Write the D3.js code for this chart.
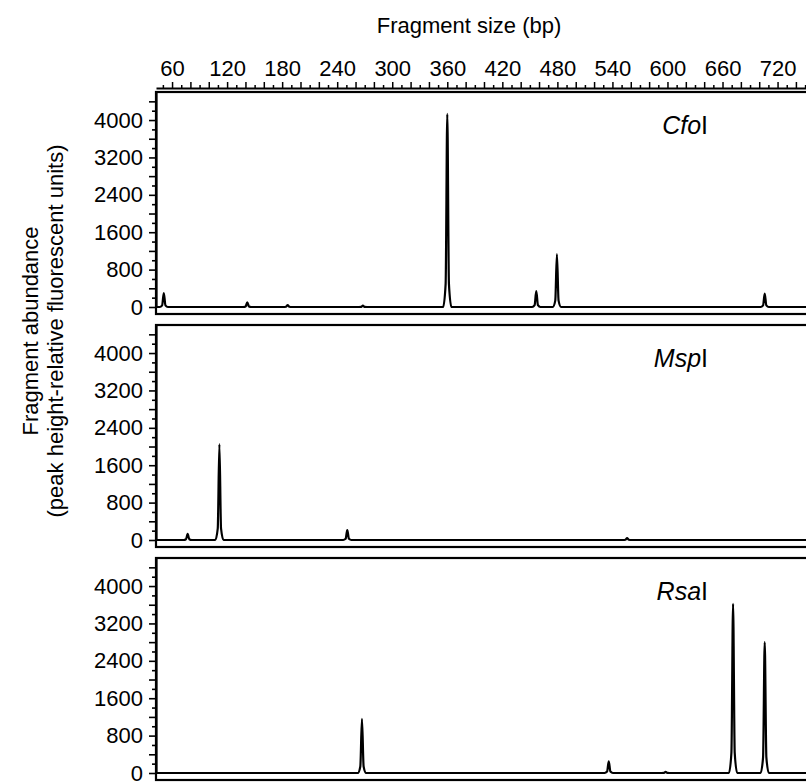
<!DOCTYPE html>
<html>
<head>
<meta charset="utf-8">
<script src="https://cdn.jsdelivr.net/npm/d3@7"></script>
<style>
  body { margin: 0; background: #fff; }
  svg { display: block; font-family: "Liberation Sans", Arial, Helvetica, sans-serif; }
</style>
</head>
<body>
<div id="chart"></div>
<script>
// Data: fragment size in bp, peak height in fluorescent units
const sizeLabels = [60, 120, 180, 240, 300, 360, 420, 480, 540, 600, 660, 720];
const abundanceLabels = [0, 800, 1600, 2400, 3200, 4000];
const enzymes = ["Cfo", "Msp", "Rsa"];

const cfoPeakSizes   = [51, 142, 186, 268, 360, 457, 479.5, 706];
const cfoPeakHeights = [300, 100, 40, 30, 4130, 340, 1130, 285];

const mspPeakSizes   = [77, 111.6, 251, 556];
const mspPeakHeights = [130, 2050, 210, 40];

const rsaPeakSizes   = [267, 536, 598, 671.5, 706];
const rsaPeakHeights = [1160, 250, 25, 3620, 2800];

const width = 806, height = 783;
const panelLeft = 156;
const firstTop = 92;        // top of the first frame
const panelStep = 233;      // distance between panel tops
const plotHeight = 215;     // 0 .. 4600 units
const frameHeight = 222;
const peakHalfWidth = 4.5;  // bp, half width of a peak at its base

const svg = d3.create("svg")
  .attr("width", width)
  .attr("height", height)
  .attr("viewBox", [0, 0, width, height]);

// X scale shared by all panels
const x = d3.scaleLinear([42.5, 751], [panelLeft, width]);

// Top axis with minor ticks every 10 bp
const topAxis = svg.append("g")
  .attr("transform", "translate(0,88)")
  .call(d3.axisTop(x)
    .tickValues(d3.range(50, 751, 10))
    .tickSize(3)
    .tickSizeOuter(0)
    .tickPadding(9)
    .tickFormat(d => sizeLabels.includes(d) ? d : ""));

topAxis.selectAll(".tick line")
  .attr("stroke-width", 1.5)
  .attr("y2", d => d % 20 === 0 ? -6 : -3);
topAxis.select(".domain").attr("stroke-width", 2);
topAxis.selectAll("text")
  .attr("font-size", 22)
  .attr("font-family", "Liberation Sans, Arial, sans-serif")
  .attr("fill", "#000");

// title
svg.append("text")
  .attr("x", 469)
  .attr("y", 33)
  .attr("text-anchor", "middle")
  .attr("font-size", 22)
  .text("Fragment size (bp)");

// y-axis title
const yTitle = svg.append("text")
  .attr("transform", "translate(0,331) rotate(-90)")
  .attr("text-anchor", "middle")
  .attr("font-size", 22);
yTitle.append("tspan").attr("x", 0).attr("y", 38).text("Fragment abundance");
yTitle.append("tspan").attr("x", 0).attr("y", 63).text("(peak height-relative fluorescent units)");

const panels = [
  {name: enzymes[0], sizes: cfoPeakSizes, heights: cfoPeakHeights},
  {name: enzymes[1], sizes: mspPeakSizes, heights: mspPeakHeights},
  {name: enzymes[2], sizes: rsaPeakSizes, heights: rsaPeakHeights}
];

panels.forEach((p, i) => {
  const top = firstTop + i * panelStep;
  const y = d3.scaleLinear([0, 4600], [top + plotHeight, top]);

  // frame
  svg.append("rect")
    .attr("x", panelLeft)
    .attr("y", top)
    .attr("width", width - panelLeft + 10)
    .attr("height", frameHeight)
    .attr("fill", "none")
    .attr("stroke", "#000")
    .attr("stroke-width", 2.2);

  // left axis: ticks every 200, longer every 400, labels every 800
  const yAxis = svg.append("g")
    .attr("transform", `translate(${panelLeft},0)`)
    .call(d3.axisLeft(y)
      .tickValues(d3.range(0, 4401, 200))
      .tickSize(4)
      .tickSizeOuter(0)
      .tickPadding(9)
      .tickFormat(d => abundanceLabels.includes(d) ? d : ""));
  yAxis.select(".domain").attr("stroke-width", 2.2);
  yAxis.selectAll(".tick line")
    .attr("stroke-width", 1.6)
    .attr("x2", d => d % 400 === 0 ? -7 : -4);
  yAxis.selectAll("text")
    .attr("font-size", 22)
    .attr("font-family", "Liberation Sans, Arial, sans-serif")
    .attr("fill", "#000");

  // trace: flat baseline with one peak per entry (narrow tip, flared foot)
  const pts = [[x.domain()[0], 0]];
  p.sizes.forEach((s, k) => {
    const h = p.heights[k];
    pts.push([s - peakHalfWidth, 0], [s - peakHalfWidth * 0.4, h * 0.12], [s, h],
             [s + peakHalfWidth * 0.4, h * 0.12], [s + peakHalfWidth, 0]);
  });
  pts.push([x.domain()[1], 0]);

  const line = d3.line()
    .x(d => x(d[0]))
    .y(d => y(d[1]))
    .curve(d3.curveMonotoneX);

  svg.append("path")
    .datum(pts)
    .attr("d", line)
    .attr("fill", "none")
    .attr("stroke", "#000")
    .attr("stroke-width", 2.2)
    .attr("stroke-linejoin", "round");

  // enzyme label
  const label = svg.append("text")
    .attr("x", 708)
    .attr("y", top + 42)
    .attr("text-anchor", "end")
    .attr("font-size", 25);
  label.append("tspan").attr("font-style", "italic").text(p.name);
  label.append("tspan").text("I");
});

document.getElementById("chart").append(svg.node());
</script>
</body>
</html>
